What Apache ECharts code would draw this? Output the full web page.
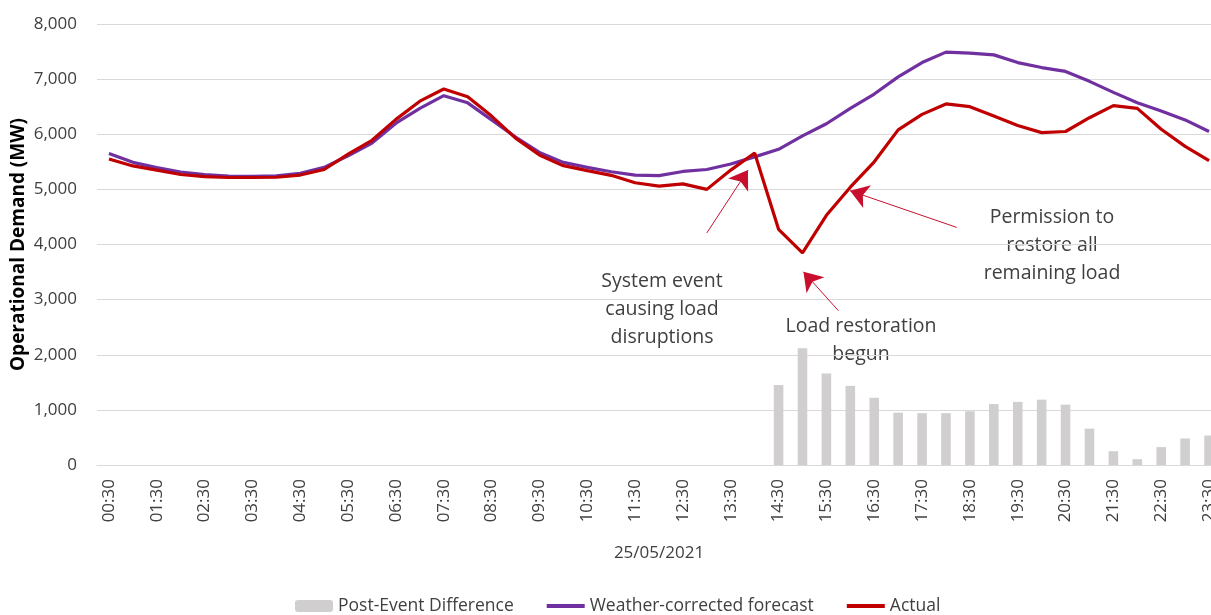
<!DOCTYPE html>
<html>
<head>
<meta charset="utf-8">
<script src="https://cdn.jsdelivr.net/npm/echarts@6/dist/echarts.min.js"></script>
<style>
  html, body { margin: 0; padding: 0; background: #fff; }
  #main { width: 1211px; height: 615px; }
</style>
</head>
<body>
<div id="main"></div>
<script>
var times = ['00:30','01:00','01:30','02:00','02:30','03:00','03:30','04:00','04:30','05:00',
  '05:30','06:00','06:30','07:00','07:30','08:00','08:30','09:00','09:30','10:00',
  '10:30','11:00','11:30','12:00','12:30','13:00','13:30','14:00','14:30','15:00',
  '15:30','16:00','16:30','17:00','17:30','18:00','18:30','19:00','19:30','20:00',
  '20:30','21:00','21:30','22:00','22:30','23:00','23:30'];

var forecast = [5650,5490,5395,5315,5270,5240,5235,5245,5290,5400,
  5610,5840,6200,6470,6700,6570,6260,5950,5670,5490,
  5400,5320,5260,5250,5325,5360,5460,5590,5727,5970,
  6190,6470,6730,7040,7300,7490,7470,7440,7300,7210,
  7140,6960,6760,6570,6420,6260,6050];

var actual = [5550,5425,5350,5270,5230,5215,5215,5220,5260,5360,
  5640,5890,6270,6600,6820,6680,6330,5930,5625,5430,
  5340,5255,5120,5060,5100,5000,5350,5660,4275,3850,
  4530,5040,5500,6080,6360,6550,6500,6330,6160,6030,
  6050,6300,6520,6470,6090,5780,5520];

var difference = [null,null,null,null,null,null,null,null,null,null,
  null,null,null,null,null,null,null,null,null,null,
  null,null,null,null,null,null,null,null,1450,2120,
  1660,1435,1220,950,940,940,975,1105,1145,1185,
  1095,660,250,105,325,480,535];

// annotation arrows: [tail, tip] as [slot index, MW]
var arrows = [
  [[25.0, 4210], [26.72, 5350]],
  [[30.50, 2800], [29.04, 3505]],
  [[35.45, 4310], [30.99, 4975]]
];

var notes = [
  { text: 'System event\ncausing load\ndisruptions', x: 662, y: 267 },
  { text: 'Load restoration\nbegun', x: 861, y: 312 },
  { text: 'Permission to\nrestore all\nremaining load', x: 1052, y: 203 }
];

var font = '"Open Sans", "Noto Sans", sans-serif';
var myChart = echarts.init(document.getElementById('main'));

var option = {
  animation: false,
  textStyle: { fontFamily: font },
  grid: { left: 97, right: -10, top: 24, bottom: 150, containLabel: false, outerBoundsMode: 'none' },
  legend: {
    data: [
      { name: 'Post-Event Difference' },
      { name: 'Weather-corrected forecast', itemStyle: { opacity: 0 }, lineStyle: { width: 4 } },
      { name: 'Actual', itemStyle: { opacity: 0 }, lineStyle: { width: 4 } }
    ],
    bottom: -5,
    left: 290,
    itemWidth: 38,
    itemHeight: 12,
    itemGap: 31,
    textStyle: { fontSize: 17.5, color: '#404040', fontFamily: font }
  },
  xAxis: [{
    type: 'category',
    data: times,
    boundaryGap: true,
    name: '25/05/2021',
    nameLocation: 'middle',
    nameGap: 80,
    nameTextStyle: { fontSize: 17, color: '#404040', fontFamily: font },
    axisLine: { lineStyle: { color: '#d9d9d9', width: 1 } },
    axisTick: { show: false },
    axisLabel: { rotate: 90, interval: 1, margin: 14, fontSize: 17, color: '#404040', fontFamily: font }
  }, {
    type: 'value',
    min: -0.5,
    max: 46.5,
    show: false
  }],
  yAxis: {
    type: 'value',
    min: 0,
    max: 8000,
    interval: 1000,
    name: 'Operational Demand (MW)',
    nameLocation: 'middle',
    nameGap: 69,
    nameMoveOverlap: false,
    nameTextStyle: { fontSize: 19, fontWeight: 'bold', color: '#000', fontFamily: font },
    axisLine: { show: false },
    axisTick: { show: false },
    axisLabel: {
      margin: 20, fontSize: 17, color: '#404040', fontFamily: font,
      formatter: function (v) { return v.toLocaleString('en-US'); }
    },
    splitLine: { lineStyle: { color: '#d9d9d9', width: 1 } }
  },
  series: [{
    name: 'Post-Event Difference',
    type: 'bar',
    data: difference,
    barWidth: '40%',
    itemStyle: { color: '#d0cece' }
  }, {
    name: 'Weather-corrected forecast',
    type: 'line',
    data: forecast,
    symbol: 'none',
    lineStyle: { color: '#7030a0', width: 3.2 },
    itemStyle: { color: '#7030a0' }
  }, {
    name: 'Actual',
    type: 'line',
    data: actual,
    symbol: 'none',
    lineStyle: { color: '#c00000', width: 3.2 },
    itemStyle: { color: '#c00000' }
  }, {
    type: 'lines',
    coordinateSystem: 'cartesian2d',
    xAxisIndex: 1,
    yAxisIndex: 0,
    symbol: ['none', 'arrow'],
    symbolSize: 18,
    lineStyle: { color: '#c8102e', width: 1, opacity: 1 },
    data: arrows.map(function (a) { return { coords: a }; }),
    z: 5
  }],
  graphic: notes.map(function (n) {
    return {
      type: 'text',
      x: n.x,
      y: n.y,
      style: {
        text: n.text,
        fill: '#404040',
        font: '19.5px ' + font,
        lineHeight: 28,
        textAlign: 'center',
        textVerticalAlign: 'top'
      }
    };
  })
};

myChart.setOption(option);
</script>
</body>
</html>
